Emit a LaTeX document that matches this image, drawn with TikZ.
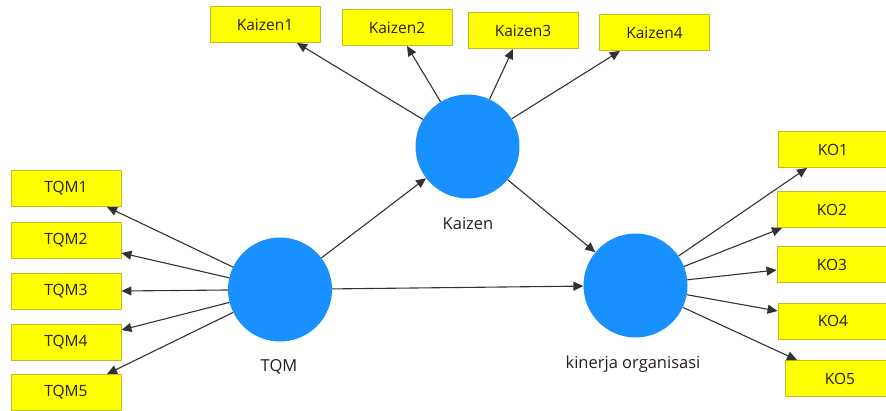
\documentclass[tikz,border=0pt]{standalone}
\usepackage{fontspec}
\setmainfont{Open Sans}
\usetikzlibrary{arrows.meta}
\definecolor{boxfill}{RGB}{255,255,0}
\definecolor{boxline}{RGB}{190,190,40}
\definecolor{lv}{RGB}{24,144,255}
\definecolor{txt}{RGB}{40,28,36}
\definecolor{lnk}{RGB}{50,50,50}
\begin{document}
\begin{tikzpicture}[x=1pt,y=-1pt,
  ind/.style={draw=boxline,fill=boxfill,line width=0.9pt,minimum width=110pt,minimum height=36pt,inner sep=0pt,text=txt,font=\fontsize{15.5}{18}\selectfont},
  lat/.style={circle,fill=lv,minimum size=104pt,inner sep=0pt},
  lab/.style={text=txt,font=\fontsize{16.5}{19}\selectfont},
  arr/.style={draw=lnk,line width=1.1pt,-{Triangle[length=10pt,width=9pt]}}]
\useasboundingbox (0,0) rectangle (886,410);
\clip (0,0) rectangle (886,410);
% latent variables
\node[lat] (kz) at (467.5,146.5) {};
\node[lat] (tqm) at (280,289.5) {};
\node[lat] (ko) at (635.5,285.5) {};
\node[lab] (kzl) at (468,224) {Kaizen};
\node[lab] (tqml) at (279,367) {TQM};
\node[lab] (kol) at (633,364) {kinerja organisasi};
% indicators
\node[ind] (k1) at (265,24.5) {Kaizen1};
\node[ind] (k2) at (397,27.5) {Kaizen2};
\node[ind] (k3) at (523,30.5) {Kaizen3};
\node[ind] (k4) at (654.5,32.5) {Kaizen4};
\node[ind] (t1) at (66,188.5) {TQM1};
\node[ind] (t2) at (66,240) {TQM2};
\node[ind] (t3) at (66,291) {TQM3};
\node[ind] (t4) at (66,342.5) {TQM4};
\node[ind] (t5) at (66,392.5) {TQM5};
\node[ind] (o1) at (833,149.5) {KO1};
\node[ind] (o2) at (832,209.5) {KO2};
\node[ind] (o3) at (832,264.5) {KO3};
\node[ind] (o4) at (833,321) {KO4};
\node[ind] (o5) at (840,378.5) {KO5};
% connectors
\draw[arr] (kz) -- ([xshift=32pt]k1.south);
\draw[arr] (kz) -- ([xshift=10pt]k2.south);
\draw[arr] (kz) -- ([xshift=-10pt]k3.south);
\draw[arr] (kz) -- ([xshift=-34.5pt]k4.south);
\draw[arr] (tqm) -- ([xshift=41pt]t1.south);
\draw[arr] (tqm) -- ([yshift=-13pt]t2.east);
\draw[arr] (tqm) -- (t3.east);
\draw[arr] (tqm) -- ([yshift=12.5pt]t4.east);
\draw[arr] (tqm) -- ([xshift=41pt]t5.north);
\draw[arr] (ko) -- ([xshift=-26pt]o1.south);
\draw[arr] (ko) -- ([xshift=-50pt]o2.south);
\draw[arr] (ko) -- ([yshift=-5.5pt]o3.west);
\draw[arr] (ko) -- ([yshift=10pt]o4.west);
\draw[arr] (ko) -- ([xshift=-43pt]o5.north);
\draw[arr] (tqm) -- (kz);
\draw[arr] (tqm) -- (ko);
\draw[arr] (kz) -- (ko);
\end{tikzpicture}
\end{document}
